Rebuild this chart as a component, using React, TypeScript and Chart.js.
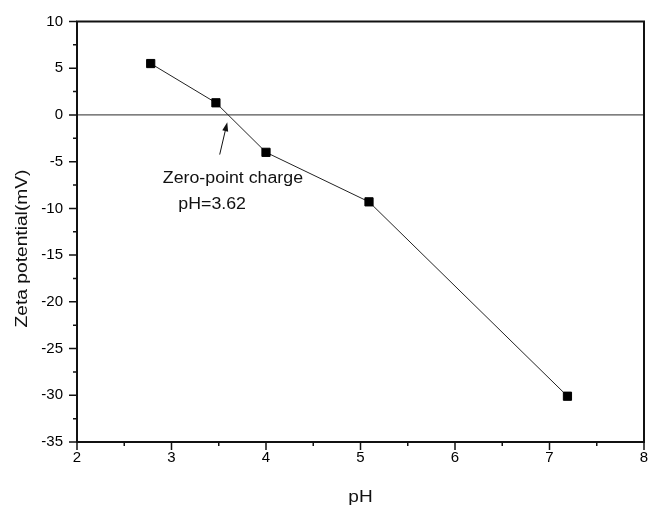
import React, { useEffect, useRef } from "react";
import { Chart, registerables } from "chart.js";

Chart.register(...registerables);

// ---- data ----
const PH = [2.78, 3.47, 4.0, 5.09, 7.19];
const ZETA = [5.5, 1.3, -4.0, -9.3, -30.1];

const X_MIN = 2;
const X_MAX = 8;
const X_STEP = 0.5;
const Y_MIN = -35;
const Y_MAX = 10;
const Y_STEP = 2.5;

const X_TITLE = "pH";
const Y_TITLE = "Zeta potential(mV)";
const NOTE_LINES = ["Zero-point charge", "pH=3.62"];
const NOTE_X = [3.65, 3.43];
const NOTE_Y = [-7.3, -10.05];
const ARROW_FROM = [3.51, -4.24];
const ARROW_TO = [3.59, -0.78];
const REF_LINE_Y = 0;

const FONT = "'Liberation Sans', Arial, sans-serif";

function drawStretched(
  ctx: CanvasRenderingContext2D,
  text: string,
  x: number,
  y: number,
  sx: number,
  rot: number,
  size: number
) {
  ctx.save();
  ctx.translate(x, y);
  if (rot) ctx.rotate(rot);
  ctx.scale(sx, 1);
  ctx.font = `${size}px ${FONT}`;
  ctx.fillStyle = "#111";
  ctx.textAlign = "center";
  ctx.textBaseline = "alphabetic";
  ctx.fillText(text, 0, 0);
  ctx.restore();
}

const decorPlugin = {
  id: "decor",
  beforeDatasetsDraw(chart: any) {
    const { ctx, chartArea, scales } = chart;
    const y0 = scales.y.getPixelForValue(REF_LINE_Y);
    ctx.save();
    ctx.strokeStyle = "#555";
    ctx.lineWidth = 1.3;
    ctx.beginPath();
    ctx.moveTo(chartArea.left, y0);
    ctx.lineTo(chartArea.right, y0);
    ctx.stroke();
    ctx.restore();
  },
  afterDraw(chart: any) {
    const { ctx, chartArea, scales } = chart;
    const xs = scales.x;
    const ys = scales.y;
    ctx.save();
    // frame
    ctx.strokeStyle = "#111";
    ctx.lineWidth = 2;
    ctx.strokeRect(
      chartArea.left,
      chartArea.top,
      chartArea.right - chartArea.left,
      chartArea.bottom - chartArea.top
    );
    // ticks
    ctx.lineWidth = 1.5;
    ctx.beginPath();
    xs.ticks.forEach((t: any) => {
      const px = xs.getPixelForValue(t.value);
      const major = Math.abs(t.value - Math.round(t.value)) < 1e-6;
      const len = major ? 8 : 4;
      ctx.moveTo(px, chartArea.bottom);
      ctx.lineTo(px, chartArea.bottom + len);
    });
    ys.ticks.forEach((t: any) => {
      const py = ys.getPixelForValue(t.value);
      const major = Math.abs(t.value / 5 - Math.round(t.value / 5)) < 1e-6;
      const len = major ? 8 : 4;
      ctx.moveTo(chartArea.left, py);
      ctx.lineTo(chartArea.left - len, py);
    });
    ctx.stroke();

    // arrow
    const ax = xs.getPixelForValue(ARROW_FROM[0]);
    const ay = ys.getPixelForValue(ARROW_FROM[1]);
    const bx = xs.getPixelForValue(ARROW_TO[0]);
    const by = ys.getPixelForValue(ARROW_TO[1]);
    const ang = Math.atan2(by - ay, bx - ax);
    const headLen = 9;
    const headHalf = 3;
    const hx = bx - headLen * Math.cos(ang);
    const hy = by - headLen * Math.sin(ang);
    ctx.strokeStyle = "#111";
    ctx.lineWidth = 1;
    ctx.beginPath();
    ctx.moveTo(ax, ay);
    ctx.lineTo(hx, hy);
    ctx.stroke();
    ctx.fillStyle = "#111";
    ctx.beginPath();
    ctx.moveTo(bx, by);
    ctx.lineTo(hx + headHalf * Math.sin(ang), hy - headHalf * Math.cos(ang));
    ctx.lineTo(hx - headHalf * Math.sin(ang), hy + headHalf * Math.cos(ang));
    ctx.closePath();
    ctx.fill();
    ctx.restore();

    // annotation text
    NOTE_LINES.forEach((line, i) => {
      drawStretched(
        ctx,
        line,
        xs.getPixelForValue(NOTE_X[i]),
        ys.getPixelForValue(NOTE_Y[i]),
        1.11,
        0,
        16
      );
    });

    // axis titles
    const midX = (chartArea.left + chartArea.right) / 2;
    drawStretched(ctx, X_TITLE, midX, 502, 1.12, 0, 17);
    drawStretched(ctx, Y_TITLE, 26.5, 248.5, 1.2, -Math.PI / 2, 16);
  },
};

export default function App() {
  const ref = useRef<HTMLCanvasElement | null>(null);

  useEffect(() => {
    if (!ref.current) return;
    const chart = new Chart(ref.current, {
      type: "scatter",
      data: {
        datasets: [
          {
            data: PH.map((x, i) => ({ x, y: ZETA[i] })),
            showLine: true,
            borderColor: "#222",
            borderWidth: 1,
            pointStyle: "rect",
            pointRadius: 5.8,
            pointBorderWidth: 1,
            pointBackgroundColor: "#000",
            pointBorderColor: "#000",
          },
        ],
      },
      options: {
        responsive: false,
        animation: false,
        layout: { padding: { top: 21.5, right: 7, left: 0, bottom: 0 } },
        plugins: {
          legend: { display: false },
          tooltip: { enabled: false },
        },
        scales: {
          x: {
            type: "linear",
            min: X_MIN,
            max: X_MAX,
            grid: { display: false, drawTicks: false },
            border: { display: false },
            ticks: {
              stepSize: X_STEP,
              autoSkip: false,
              maxRotation: 0,
              padding: 7,
              color: "#000",
              font: { family: FONT, size: 15 },
              callback: (v: any) =>
                Math.abs(v - Math.round(v)) < 1e-6 ? String(Math.round(v)) : "",
            },
            afterFit: (s: any) => {
              s.height = 64;
              s.paddingLeft = 0;
              s.paddingRight = 0;
            },
          },
          y: {
            type: "linear",
            min: Y_MIN,
            max: Y_MAX,
            grid: { display: false, drawTicks: false },
            border: { display: false },
            ticks: {
              stepSize: Y_STEP,
              autoSkip: false,
              padding: 14,
              color: "#000",
              font: { family: FONT, size: 15 },
              callback: (v: any) =>
                Math.abs(v / 5 - Math.round(v / 5)) < 1e-6
                  ? String(Math.round(v))
                  : "",
            },
            afterFit: (s: any) => {
              s.width = 77;
              s.paddingTop = 0;
              s.paddingBottom = 0;
            },
          },
        },
      },
      plugins: [decorPlugin],
    });
    return () => chart.destroy();
  }, []);

  return (
    <div style={{ position: "absolute", left: 0, top: 0, width: 651, height: 506, background: "#fff" }}>
      <canvas ref={ref} width={651} height={506} />
    </div>
  );
}
